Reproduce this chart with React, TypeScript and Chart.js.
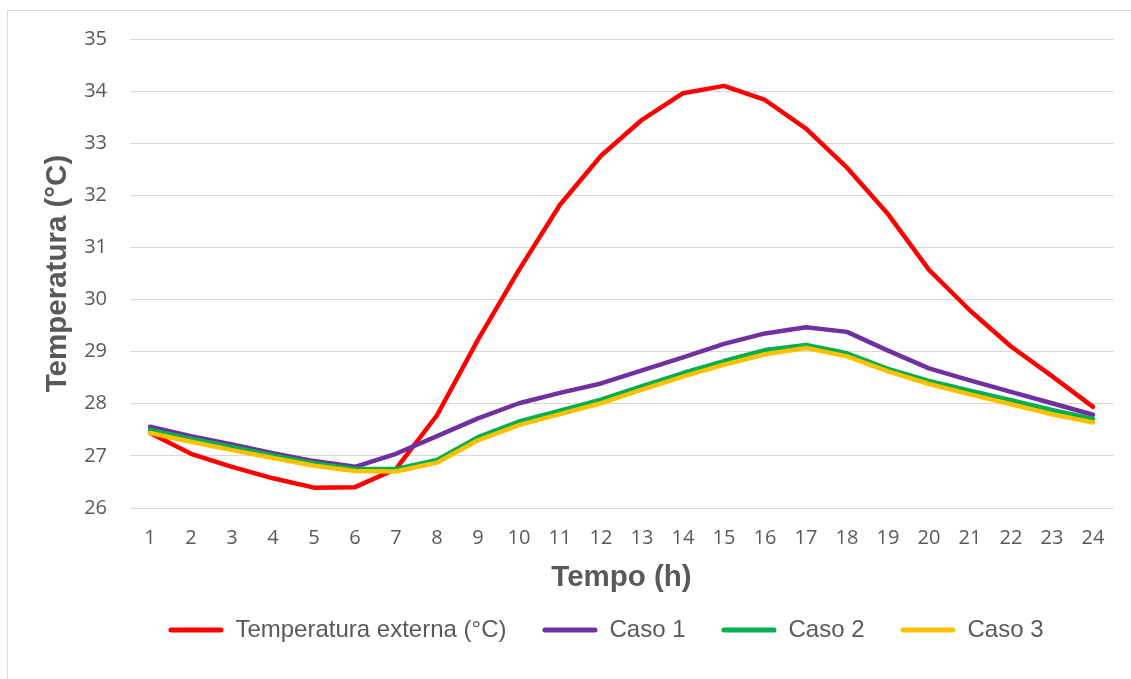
import React, { useEffect, useRef } from "react";
import { Chart, registerables } from "chart.js";

Chart.register(...registerables);

const hours = ["1","2","3","4","5","6","7","8","9","10","11","12","13","14","15","16","17","18","19","20","21","22","23","24"];

const externa = [27.44, 27.04, 26.79, 26.57, 26.39, 26.40, 26.75, 27.78, 29.23, 30.57, 31.82, 32.76, 33.45, 33.96, 34.10, 33.83, 33.28, 32.53, 31.64, 30.57, 29.79, 29.10, 28.53, 27.94];
const caso1 = [27.56, 27.38, 27.22, 27.05, 26.90, 26.79, 27.04, 27.38, 27.72, 28.01, 28.21, 28.39, 28.64, 28.89, 29.15, 29.35, 29.47, 29.38, 29.02, 28.68, 28.45, 28.23, 28.01, 27.79];
const caso2 = [27.50, 27.33, 27.17, 27.01, 26.86, 26.75, 26.75, 26.92, 27.36, 27.66, 27.87, 28.08, 28.34, 28.59, 28.82, 29.03, 29.13, 28.97, 28.67, 28.44, 28.25, 28.07, 27.88, 27.71];
const caso3 = [27.44, 27.27, 27.11, 26.96, 26.81, 26.71, 26.70, 26.87, 27.30, 27.59, 27.80, 28.01, 28.27, 28.52, 28.75, 28.95, 29.07, 28.91, 28.62, 28.38, 28.18, 27.99, 27.80, 27.64];

const seriesNames = ["Temperatura externa (°C)", "Caso 1", "Caso 2", "Caso 3"];
const seriesColors = ["#FF0000", "#7030A0", "#00B050", "#FFC000"];

const yMin = 26;
const yMax = 35;
const xTitle = "Tempo (h)";
const yTitle = "Temperatura (°C)";

const TEXT = "#595959";
const GRID = "#D9D9D9";

export default function App() {
  const ref = useRef<HTMLCanvasElement | null>(null);

  useEffect(() => {
    document.body.style.margin = "0";
    document.body.style.overflow = "hidden";
    const canvas = ref.current;
    if (!canvas) return;
    const values = [externa, caso1, caso2, caso3];
    const drawOrder = [3, 2, 1, 0];
    const chart = new Chart(canvas, {
      type: "line",
      data: {
        labels: hours,
        datasets: values.map((v, i) => ({
          label: seriesNames[i],
          data: v,
          yAxisID: "y",
          borderColor: seriesColors[i],
          backgroundColor: seriesColors[i],
          borderWidth: 4.5,
          pointRadius: 0,
          pointHoverRadius: 0,
          tension: 0,
          fill: false,
          borderCapStyle: "round" as const,
          borderJoinStyle: "round" as const,
          order: drawOrder[i],
        })),
      },
      options: {
        responsive: false,
        animation: false,
        devicePixelRatio: 1,
        layout: { padding: { left: 81, right: 0, top: 39, bottom: 27 } },
        plugins: {
          tooltip: { enabled: false },
          legend: {
            position: "bottom",
            labels: {
              boxWidth: 55,
              boxHeight: 5,
              padding: 36,
              color: TEXT,
              font: { family: "'Liberation Sans', Arial, sans-serif", size: 24 },
              useBorderRadius: true,
              borderRadius: 2.5,
              generateLabels: (ch: any) =>
                ch.data.datasets.map((ds: any, i: number) => ({
                  text: ds.label,
                  fillStyle: ds.borderColor,
                  strokeStyle: ds.borderColor,
                  lineWidth: 0,
                  hidden: false,
                  datasetIndex: i,
                  fontColor: TEXT,
                  borderRadius: 2.5,
                })),
            },
          },
        },
        scales: {
          x: {
            type: "category",
            offset: true,
            grid: { display: false, drawTicks: false },
            border: { display: false },
            ticks: {
              color: TEXT,
              padding: 18,
              maxRotation: 0,
              autoSkip: false,
              font: { family: "'Open Sans', sans-serif", size: 20 },
            },
            title: {
              display: true,
              text: xTitle,
              color: TEXT,
              font: { family: "'Liberation Sans', Arial, sans-serif", size: 29.5, weight: "bold" },
              padding: { top: 0, bottom: -14 },
            },
            afterFit: (s: any) => {
              s.height = 74;
            },
          },
          y: {
            position: "left",
            min: yMin,
            max: yMax,
            grid: { color: GRID, lineWidth: 1, drawTicks: false },
            border: { display: false },
            ticks: {
              stepSize: 1,
              color: TEXT,
              padding: 22.5,
              font: { family: "'Open Sans', sans-serif", size: 20 },
            },
            title: {
              display: true,
              text: yTitle,
              color: TEXT,
              font: { family: "'Liberation Sans', Arial, sans-serif", size: 29.5, weight: "bold" },
              padding: { top: -41, bottom: 0 },
            },
            afterFit: (s: any) => {
              s.width = 48.5;
            },
          },
          yRight: {
            position: "right",
            display: true,
            grid: { display: false, drawTicks: false },
            border: { display: false },
            ticks: { display: false },
            afterFit: (s: any) => {
              s.width = 17.5;
            },
          },
        },
      },
    });
    return () => chart.destroy();
  }, []);

  return (
    <div style={{ position: "relative", width: 1131, height: 679, background: "#fff", overflow: "hidden" }}>
      <canvas ref={ref} width={1131} height={679} style={{ display: "block" }} />
      <div
        style={{
          position: "absolute",
          left: 7,
          top: 10,
          width: 1200,
          height: 800,
          borderLeft: "1px solid #D9D9D9",
          borderTop: "1px solid #D9D9D9",
          pointerEvents: "none",
        }}
      />
    </div>
  );
}
